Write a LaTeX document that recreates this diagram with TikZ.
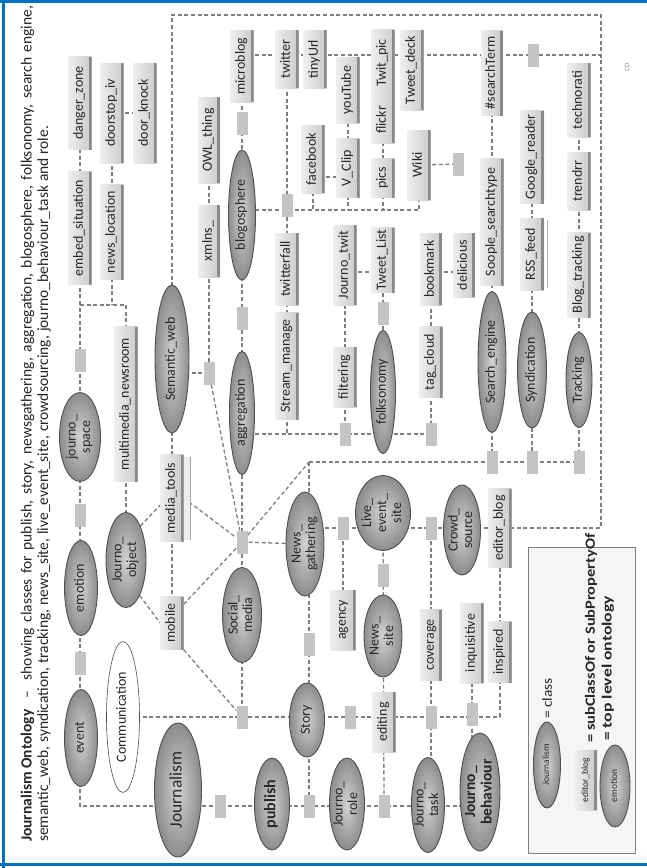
\documentclass[tikz,border=0pt]{standalone}
\usepackage{graphicx}
\usepackage{fontspec}
\setmainfont{Carlito}
\usetikzlibrary{shapes.geometric,backgrounds}

% rotated label, set in a box of zero size so the shape keeps its given size
\newcommand\rt[1]{\rotatebox{90}{\begin{tabular}{@{}c@{}}#1\end{tabular}}}
\newcommand\zt[1]{\makebox[0pt]{\raisebox{-.5\height}[0pt][0pt]{\rt{#1}}}}

\definecolor{cgray}{HTML}{7F7F7F}
\definecolor{boxA}{HTML}{EEEEEE}
\definecolor{boxB}{HTML}{CACACA}
\definecolor{boxS}{HTML}{8A8A8A}
\definecolor{elA}{HTML}{D2D2D2}
\definecolor{elB}{HTML}{8C8C8C}
\definecolor{elL}{HTML}{4F4F4F}
\definecolor{sqF}{HTML}{C4C4C4}
\definecolor{bord}{HTML}{0070C0}
\definecolor{txt}{HTML}{262626}

\tikzset{
  lbl/.style={font=\fontsize{14}{14.5}\selectfont, text=txt},
  bx/.style={rectangle, inner sep=0pt, minimum width=23pt, left color=boxA, right color=boxB, lbl,
    path picture={\fill[boxS] ([xshift=-3pt]path picture bounding box.north east) rectangle (path picture bounding box.south east);}},
  el/.style={ellipse, inner sep=0pt, draw=elL, line width=0.9pt, inner color=elA, outer color=elB, lbl},
  sq/.style={rectangle, inner sep=0pt, minimum width=11pt, minimum height=23pt, fill=sqF},
  cn/.style={draw=cgray, line width=1.3pt, dash pattern=on 4pt off 2.6pt},
  ttl/.style={inner sep=0pt, font=\fontsize{15.5}{17}\selectfont, text=black!85},
  legtxt/.style={inner sep=0pt, anchor=south, text=txt},
}

\begin{document}
\begin{tikzpicture}[x=1pt,y=-1pt]
\useasboundingbox (0,0) rectangle (647,868);

% ---------- title ----------
\node[ttl, anchor=south] (title1) at (27.5,842) {\rotatebox{90}{\makebox[836pt][s]{\mbox{\bfseries Journalism Ontology}\ \ -- \ showing classes for publish, story, newsgathering, aggregation, blogosphere, folksonomy, search engine,}}};
\node[ttl, anchor=south] (title2) at (44,842) {\rotatebox{90}{\makebox[716pt][s]{semantic\_web, syndication, tracking, news\_site, live\_event\_site, crowdsourcing, journo\_behaviour\_task and role.}}};

% ---------- journo space branch ----------
\node[bx, minimum height=93pt] (danger) at (80,103) {\zt{danger\_zone}};
\node[bx, minimum height=113pt] (embed) at (80,228) {\zt{embed\_situation}};
\node[bx, minimum height=100pt] (doorstop) at (112,113) {\zt{doorstop\_iv}};
\node[bx, minimum height=100pt] (doorknock) at (145,113) {\zt{door\_knock}};
\node[bx, minimum height=95pt] (newsloc) at (112,232) {\zt{news\_location}};
\node[sq] (s1) at (80,360) {};
\node[el, minimum width=41pt, minimum height=89pt] (journospace) at (80,437) {\zt{journo\_\\space}};
\node[sq] (s2) at (80,515) {};
\node[el, minimum width=33pt, minimum height=95pt] (emotion) at (81,588) {\zt{emotion}};
\node[sq] (s3) at (80,663) {};
\node[el, minimum width=33pt, minimum height=97pt] (event) at (81,738) {\zt{event}};
\node[el, minimum width=33pt, minimum height=151pt, inner color=white, outer color=white, draw=black!70, line width=0.6pt] (communication) at (123,717) {\zt{Communication}};
\node[el, minimum width=47pt, minimum height=134pt, font=\fontsize{17.5}{18}\selectfont] (journalism) at (178,790) {\zt{Journalism}};

% ---------- journo object / media ----------
\node[bx, minimum height=155pt] (multimedia) at (126,404) {\zt{multimedia\_newsroom}};
\node[el, minimum width=40pt, minimum height=95pt] (journoobject) at (126,560) {\zt{Journo\_\\object}};
\fill[boxA] (183,457) rectangle (190,540);
\draw[black!35, line width=0.6pt] (190,457) -- (190,540);
\node[bx, minimum height=87pt] (mediatools) at (172,498) {\zt{media\_tools}};
\node[bx, minimum height=53pt] (mobile) at (172,623) {\zt{mobile}};
\node[el, minimum width=34pt, minimum height=148pt] (semanticweb) at (172,359) {\zt{Semantic\_web}};
\node[bx, minimum width=22pt, minimum height=86pt] (owl) at (209,140) {\zt{OWL\_thing}};
\node[bx, minimum width=22pt, minimum height=72pt] (xmlns) at (209,241) {\zt{xmlns\_}};
\node[sq] (s4) at (209,373) {};

% ---------- blogosphere ----------
\node[bx, minimum height=72pt] (microblog) at (242,66) {\zt{microblog}};
\node[sq] (s5) at (242,123) {};
\node[el, minimum width=27pt, minimum height=130pt] (blogosphere) at (242,215) {\zt{blogosphere}};
\node[sq] (s7) at (242,318) {};
\node[el, minimum width=25pt, minimum height=123pt] (aggregation) at (242,413) {\zt{aggregation}};
\node[sq] (hub) at (242,542) {};
\node[el, minimum width=39pt, minimum height=95pt] (socialmedia) at (242,615) {\zt{Social\_\\media}};
\node[sq] (s21) at (242,717) {};

\node[bx, minimum height=58pt] (twitter) at (287,59) {\zt{twitter}};
\node[bx, minimum height=58pt] (tinyurl) at (315,59) {\zt{tinyUrl}};
\node[bx, minimum height=67pt] (twitpic) at (383,63) {\zt{Twit\_pic}};
\node[bx, minimum height=80pt] (tweetdeck) at (412,70) {\zt{Tweet\_deck}};
\node[bx, minimum height=68pt] (facebook) at (313,159) {\zt{facebook}};
\node[bx, minimum height=66pt] (youtube) at (348,90) {\zt{youTube}};
\node[bx, minimum height=59pt] (vclip) at (348,168) {\zt{V\_Clip}};
\node[bx, minimum height=46pt] (flickr) at (383,120) {\zt{flickr}};
\node[bx, minimum height=39pt] (pics) at (383,178) {\zt{pics}};
\node[bx, minimum height=70pt] (wiki) at (419,165) {\zt{Wiki}};
\node[sq] (s12) at (458,164) {};
\node[sq] (s6) at (287,205) {};
\node[bx, minimum height=72pt] (twitterfall) at (287,269) {\zt{twitterfall}};
\node[bx, minimum height=107pt] (streammanage) at (287,366) {\zt{Stream\_manage}};

% ---------- aggregation / folksonomy ----------
\node[bx, minimum height=80pt] (journotwit) at (345,265) {\zt{Journo\_twit}};
\node[bx, minimum height=65pt] (tweetlist) at (383,260) {\zt{Tweet\_List}};
\node[bx, minimum height=60pt] (filtering) at (345,377) {\zt{filtering}};
\node[sq] (s9) at (345,434) {};
\node[sq] (s11) at (383,313) {};
\node[el, minimum width=25pt, minimum height=123pt] (folksonomy) at (383,392) {\zt{folksonomy}};
\node[bx, minimum width=22pt, minimum height=72pt] (bookmark) at (431,269) {\zt{bookmark}};
\node[bx, minimum width=22pt, minimum height=64pt] (delicious) at (464,265) {\zt{delicious}};
\node[bx, minimum height=71pt] (tagcloud) at (431,362) {\zt{tag\_cloud}};
\node[sq] (s10) at (431,434) {};

% ---------- search, syndication, tracking ----------
\node[bx, minimum width=22pt, minimum height=85pt] (searchterm) at (492,73) {\zt{\#searchTerm}};
\node[bx, minimum height=127pt] (soople) at (492,222) {\zt{Soople\_searchtype}};
\node[el, minimum width=28pt, minimum height=141pt] (searchengine) at (492,362) {\zt{Search\_engine}};
\node[sq] (s13) at (533,55) {};
\node[bx, minimum width=24pt, minimum height=93pt] (googlereader) at (532,157) {\zt{Google\_reader}};
\node[bx, minimum width=24pt, minimum height=72pt] (rssfeed) at (532,254) {\zt{RSS\_feed}};
\draw[black!30, line width=0.6pt] (547,220) -- (547,288);
\node[el, minimum width=29pt, minimum height=116pt] (syndication) at (532,370) {\zt{Syndication}};
\node[bx, minimum height=74pt] (technorati) at (579,100) {\zt{technorati}};
\node[bx, minimum height=58pt] (trendrr) at (579,181) {\zt{trendrr}};
\node[bx, minimum height=85pt] (blogtracking) at (579,275) {\zt{Blog\_tracking}};
\node[el, minimum width=26pt, minimum height=95pt] (tracking) at (579,380) {\zt{Tracking}};
\node[sq] (s14) at (492,462) {};
\node[sq] (s15) at (532,462) {};
\node[sq] (s16) at (579,462) {};

% ---------- news gathering / story ----------
\node[el, minimum width=38pt, minimum height=104pt] (newsgathering) at (305,544) {\zt{News\_\\gathering}};
\node[sq] (s17) at (343,528) {};
\node[el, minimum width=55pt, minimum height=75pt, font=\fontsize{14}{15}\selectfont] (livevent) at (383,513) {\zt{Live\_\\event\_\\site}};
\node[sq] (s18) at (431,528) {};
\node[el, minimum width=37pt, minimum height=90pt] (crowdsource) at (462,530) {\zt{Crowd\_\\source}};
\node[bx, minimum height=79pt] (editorblog) at (500,528) {\zt{editor\_blog}};
\node[bx, minimum width=25pt, minimum height=60pt] (agency) at (343,620) {\zt{agency}};
\node[sq] (s19) at (383,575) {};
\node[el, minimum width=38pt, minimum height=82pt] (newssite) at (383,636) {\zt{News\_\\site}};
\node[sq] (s20) at (309,644) {};
\node[el, minimum width=35pt, minimum height=74pt] (story) at (307,720) {\zt{Story}};
\node[sq] (s22) at (350,717) {};
\node[bx, minimum height=60pt] (editing) at (384,722) {\zt{editing}};
\node[bx, minimum width=22pt, minimum height=71pt] (coverage) at (431,645) {\zt{coverage}};
\node[bx, minimum height=80pt] (inquisitive) at (472,643) {\zt{inquisitive}};
\node[bx, minimum height=61pt] (inspired) at (500,652) {\zt{inspired}};
\node[sq] (s23) at (431,717) {};
\node[sq] (s24) at (472,714) {};

% ---------- bottom row ----------
\node[sq] (s25) at (220,806) {};
\node[el, minimum width=35pt, minimum height=92pt, font=\fontsize{16}{17}\bfseries] (publish) at (272,804) {\zt{publish}};
\node[sq] (s26) at (309,806) {};
\node[el, minimum width=35pt, minimum height=92pt] (journorole) at (347,804) {\zt{Journo\_\\role}};
\node[sq] (s27) at (384,806) {};
\node[el, minimum width=33pt, minimum height=95pt] (journotask) at (428,805) {\zt{Journo\_\\task}};
\node[el, minimum width=40pt, minimum height=118pt, font=\fontsize{15.5}{16.5}\bfseries] (journobehaviour) at (480,792) {\zt{Journo\_\\behaviour}};

% ---------- legend ----------
\draw[draw=black!50, fill=black!4, line width=0.8pt] (528,547) rectangle (635,853);
\node[el, minimum width=27pt, minimum height=86pt, font=\fontsize{9.5}{10}\selectfont] (legclass) at (547,765) {\zt{Journalism}};
\node[legtxt, font=\fontsize{14}{15}\selectfont] (legclasstxt) at (547,719) {\rotatebox{90}{\scalebox{1.1}[1]{= class}}};
\node[bx, minimum width=22pt, minimum height=60pt, font=\fontsize{9.5}{10}\selectfont] (legsub) at (586,780) {\zt{editor\_blog}};
\node[legtxt, font=\fontsize{14}{15}\bfseries] (legsubtxt) at (591,743) {\rotatebox{90}{\scalebox{1.17}[1]{= subClassOf or SubPropertyOf}}};
\node[el, minimum width=30pt, minimum height=82pt, font=\fontsize{9.5}{10}\selectfont] (legtop) at (615,786) {\zt{emotion}};
\node[legtxt, font=\fontsize{14}{15}\bfseries] (legtoptxt) at (608,741) {\rotatebox{90}{\scalebox{1.26}[1]{= top level ontology}}};

\node[inner sep=0pt, font=\fontsize{7}{8}\selectfont, text=black!45] (cd) at (627,67) {\rotatebox{90}{CD}};

% ---------- page frame ----------
\draw[bord, line width=3pt] (0,1.5) -- (647,1.5);
\draw[bord, line width=3pt] (3.5,0) -- (3.5,868);
\draw[bord, line width=3pt] (0,864.5) -- (647,864.5);

% ---------- connectors (behind the shapes) ----------
\coordinate (r55) at (0,55);
\coordinate (r177) at (0,177);
\coordinate (r210) at (0,210);
\coordinate (r272) at (0,272);
\coordinate (r305) at (0,305);
\coordinate (r434) at (0,434);
\coordinate (r528) at (0,528);
\coordinate (r717) at (0,717);
\coordinate (r806) at (0,806);
\coordinate (j305a) at (80,305);
\coordinate (j305b) at (126,305);
\coordinate (ev806) at (80,806);
\coordinate (c1) at (309,462);
\coordinate (bigTL) at (172,15);
\coordinate (bigTR) at (601,15);
\coordinate (bigBR) at (601,528);

\begin{scope}[on background layer]
\fill[white] (0,0) rectangle (647,868);
% journo space column and bottom row
\draw[cn] (danger.center) -- (ev806) -- (journobehaviour.center |- r806);
\draw[cn] (doorstop.center) -- (doorknock.center);
\draw[cn] (doorstop.center) -- (newsloc.center) -- (newsloc.center |- r305);
\draw[cn] (j305a) -- (j305b) -- (journoobject.center);
% semantic web
\draw[cn] (owl.center) -- (s4.center);
\draw[cn] (semanticweb.center |- s4.center) -- (s4.center);
\draw[cn] (s4) -- (hub);
\draw[cn] (semanticweb.center) -- (mobile.center);
\draw[cn] (semanticweb.center) -- (bigTL) -- (bigTR) -- (bigBR) -- (newsgathering.center |- r528);
% blogosphere
\draw[cn] (microblog.center) -- (s21.center);
\draw[cn] (microblog.center |- r55) -- (bigTR |- r55);
\draw[cn] (twitter.center) -- (streammanage.center |- r434);
\draw[cn] (blogosphere.center |- r210) -- (wiki.center |- r210) -- (wiki.center);
\draw[cn] (facebook.center) -- (facebook.center |- r210);
\draw[cn] (facebook.center |- r177) -- (vclip.center |- r177);
\draw[cn] (youtube.center) -- (vclip.center |- r210);
\draw[cn] (twitpic.center) -- (pics.center |- r210);
\draw[cn] (wiki.center) -- (s12.center);
% aggregation, folksonomy
\draw[cn] (journotwit.center) -- (s9.center);
\draw[cn] (journotwit.center |- r272) -- (tweetlist.center |- r272);
\draw[cn] (tweetlist.center) -- (folksonomy.center);
\draw[cn] (aggregation.center |- r434) -- (s10.center);
\draw[cn] (bookmark.center) -- (s10.center);
\draw[cn] (bookmark.center |- r272) -- (delicious.center |- r272);
% search, syndication, tracking
\draw[cn] (searchterm.center) -- (s14.center);
\draw[cn] (googlereader.center) -- (s15.center);
\draw[cn] (technorati.center) -- (s16.center);
\draw[cn] (hub) -- (c1);
\draw[cn] (c1) -- (s16.center);
\draw[cn] (c1) -- (s26.center);
% news gathering, story
\draw[cn] (hub.center) -- (newsgathering.center);
\draw[cn] (livevent.center) -- (s27.center);
\draw[cn] (s17.center) -- (agency.center);
\draw[cn] (s18.center) -- (s18.center |- journotask.center);
\draw[cn] (inquisitive.center) -- (inquisitive.center |- journobehaviour.center);
\draw[cn] (editorblog.center) -- (editorblog.center |- r717);
\draw[cn] (communication.center) -- (editorblog.center |- r717);
% media tools, mobile
\draw[cn] (journoobject.67) -- ([yshift=-7pt]mediatools.west);
\draw[cn] (journoobject.-69) -- (mobile.west);
\draw[cn] (mediatools.east) -- (hub);
\draw[cn] ([yshift=-8pt]mobile.north east) -- (hub);
\draw[cn] (mobile.south east) -- (s21);
\end{scope}
\end{tikzpicture}
\end{document}
